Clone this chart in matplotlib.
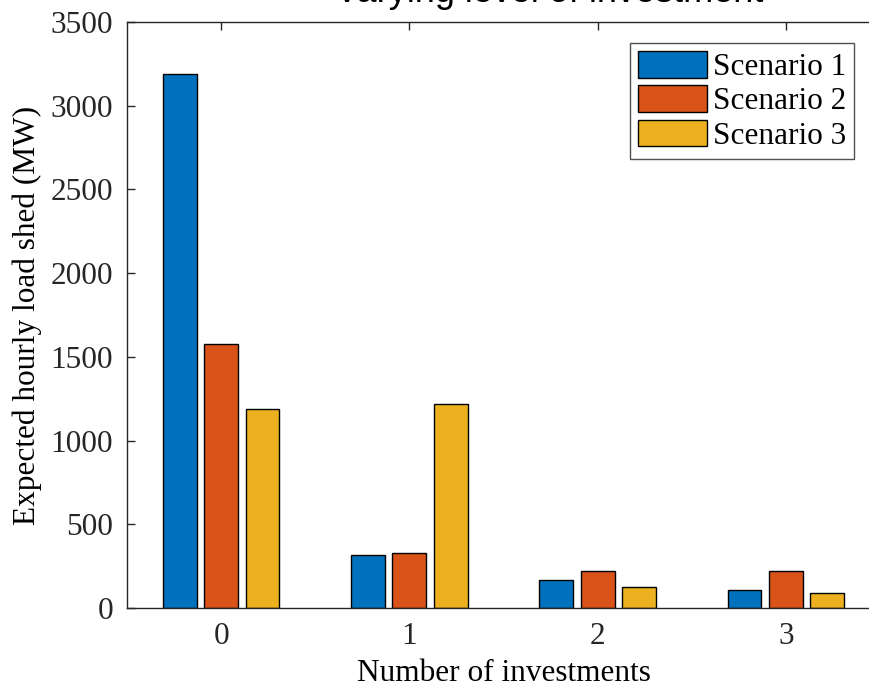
import matplotlib.pyplot as plt
import numpy as np

plt.rcParams['font.family'] = ['Liberation Serif', 'DejaVu Serif']

# data
investments = ['0', '1', '2', '3']
scenario_1 = [3190, 314, 165, 107]
scenario_2 = [1575, 330, 222, 222]
scenario_3 = [1188, 1219, 123, 91]
labels = ['Scenario 1', 'Scenario 2', 'Scenario 3']
colors = ['#0072BD', '#D95319', '#EDB120']

fig = plt.figure(figsize=(8.69, 6.9), dpi=100)
ax = fig.add_axes([127 / 869, 82 / 690, 753 / 869, 586 / 690])

x = np.arange(len(investments))
offset = 0.22
width = 0.18
handles = []
for i, (vals, lab, col) in enumerate(zip([scenario_1, scenario_2, scenario_3], labels, colors)):
    h = ax.bar(x + (i - 1) * offset, vals, width, color=col, edgecolor='black',
               linewidth=1.0, label=lab, zorder=2)
    handles.append(h)

ax.set_xlim(-0.5, 3.5)
ax.set_ylim(0, 3500)
ax.set_xticks(x)
ax.set_xticklabels(investments)
ax.set_yticks(np.arange(0, 3501, 500))

axis_col = '#262626'
for s in ax.spines.values():
    s.set_color(axis_col)
    s.set_linewidth(1.0)
ax.tick_params(direction='in', length=6, width=1.0, color=axis_col,
               labelsize=22.5, top=True, right=True, pad=10)
for t in ax.get_xticklabels() + ax.get_yticklabels():
    t.set_color('#262626')

ax.set_ylabel('Expected hourly load shed (MW)', fontsize=22.5, labelpad=6)
ax.set_xlabel('Number of investments', fontsize=22.5, labelpad=6)

leg = fig.legend(handles=handles, loc='upper right', bbox_to_anchor=(854 / 869, 1 - 43 / 690),
                 fontsize=22.5, frameon=True, fancybox=False, edgecolor='#262626',
                 handlelength=2.2, handleheight=0.95, handletextpad=0.2, labelspacing=0.1,
                 borderpad=0.25, borderaxespad=0)
leg.get_frame().set_linewidth(1.0)

# title, mostly clipped at the top of the picture as in the reference
fig.text(335 / 869, 1 - 2 / 690, 'Varying level of investment', fontsize=26,
         family='Liberation Sans', ha='left', va='baseline')

fig.savefig('out.png', dpi=100)
